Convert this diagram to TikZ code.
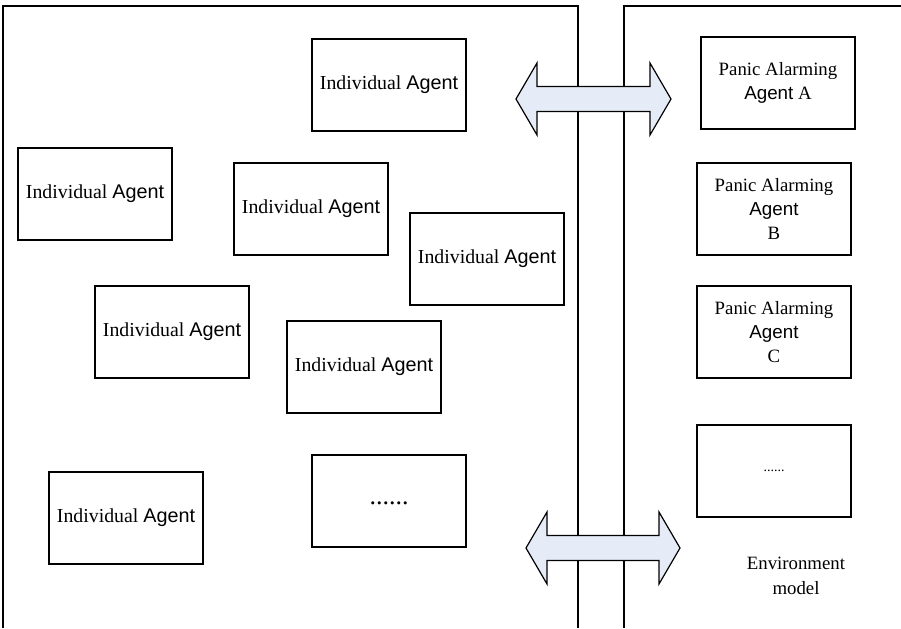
\documentclass[tikz,border=0pt]{standalone}
\usepackage{fontspec}
\setmainfont{Liberation Serif}
\newfontfamily\sansag{Liberation Sans}
\newcommand{\ag}{{\sansag Agent}}
\definecolor{arrowfill}{RGB}{230,236,247}

\begin{document}
\begin{tikzpicture}[x=0.5pt,y=-0.5pt,
    agentbox/.style={draw,line width=0.8pt,minimum width=77pt,minimum height=46pt,
        inner sep=1pt,align=center,font=\fontsize{9.9}{12}\selectfont},
    alarmbox/.style={agentbox,font=\fontsize{9.4}{12}\selectfont},
    linkarrow/.style={draw,line width=0.6pt,fill=arrowfill,line join=miter}]
        \useasboundingbox (0,0) rectangle (901,628);

        % the crowd area and the environment area, open at the bottom
        \draw[line width=0.7pt] (3,628) -- (3,6) -- (578,6) -- (578,628);
        \draw[line width=0.7pt] (901,6) -- (624,6) -- (624,628);

        % individual agents
        \node[agentbox] (ind1) at (389,85)  {Individual \ag};
        \node[agentbox] (ind2) at (95,194)  {Individual \ag};
        \node[agentbox] (ind3) at (311,209) {Individual \ag};
        \node[agentbox] (ind4) at (487,259) {Individual \ag};
        \node[agentbox] (ind5) at (172,332) {Individual \ag};
        \node[agentbox] (ind6) at (364,367) {Individual \ag};
        \node[agentbox] (ind7) at (126,518) {Individual \ag};
        \node[agentbox,font=\fontsize{13}{14}\selectfont,text height=3.5pt,text depth=0pt] (indmore) at (389,501) {......};

        % panic alarming agents
        \node[alarmbox] (alarmA) at (778,83)  {Panic Alarming\\\ag\ A};
        \node[alarmbox] (alarmB) at (774,209) {Panic Alarming\\\ag\\B};
        \node[alarmbox] (alarmC) at (774,332) {Panic Alarming\\\ag\\C};
        \node[alarmbox,font=\fontsize{7}{8}\selectfont] (alarmmore) at (774,471) {......};

        \node[align=center,font=\fontsize{9.4}{12.5}\selectfont] (env) at (796,576) {Environment\\model};

        % the two double arrows across the boundary
        \foreach \l/\r/\y in {516/671/99, 526/680/548} {
                \draw[linkarrow] (\l,\y) -- (\l+21,\y-36) -- (\l+21,\y-12.5)
                        -- (\r-21,\y-12.5) -- (\r-21,\y-36) -- (\r,\y)
                        -- (\r-21,\y+36) -- (\r-21,\y+12.5) -- (\l+21,\y+12.5)
                        -- (\l+21,\y+36) -- cycle;
        }
\end{tikzpicture}
\end{document}
